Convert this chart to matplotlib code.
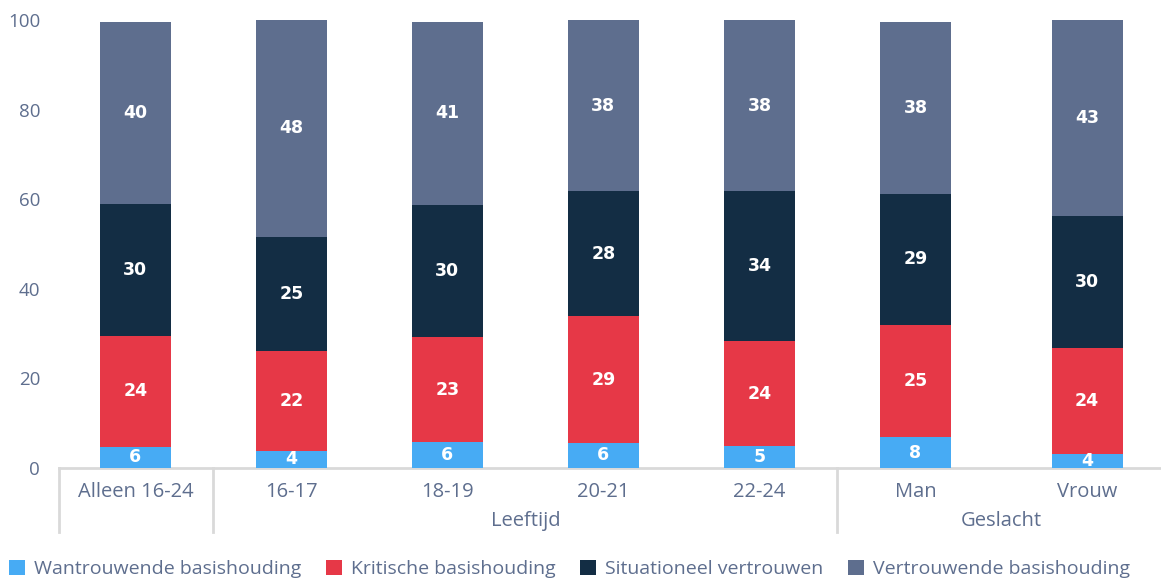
import matplotlib
matplotlib.use('Agg')
import matplotlib.pyplot as plt
from matplotlib.patches import Patch

plt.rcParams['font.family'] = ['Open Sans', 'DejaVu Sans']

# categories and groups
categories = ['Alleen 16-24', '16-17', '18-19', '20-21', '22-24', 'Man', 'Vrouw']
groups = ['Leeftijd', 'Geslacht']

# segment heights (percent)
wantrouwend = [4.7, 3.8, 5.8, 5.6, 4.9, 6.9, 3.1]
kritisch = [24.8, 22.3, 23.4, 28.3, 23.4, 25.0, 23.7]
situationeel = [29.4, 25.5, 29.5, 27.9, 33.5, 29.3, 29.5]
vertrouwend = [40.7, 48.4, 40.9, 38.2, 38.2, 38.4, 43.7]

# printed labels in the bars
lbl_wantrouwend = ['6', '4', '6', '6', '5', '8', '4']
lbl_kritisch = ['24', '22', '23', '29', '24', '25', '24']
lbl_situationeel = ['30', '25', '30', '28', '34', '29', '30']
lbl_vertrouwend = ['40', '48', '41', '38', '38', '38', '43']

series_names = ['Wantrouwende basishouding', 'Kritische basishouding',
                'Situationeel vertrouwen', 'Vertrouwende basishouding']

#* layout / styles
colors = ['#47ABF4', '#E63847', '#132D44', '#5E6E8E']
txt_col = '#5E6E8E'
grid_col = '#D9D9D9'
xpos = [0, 1, 2, 3, 4, 5, 6.1]
bar_w = 0.455

fig = plt.figure(figsize=(11.61, 5.81), dpi=100)
ax = fig.add_axes([0.0508, 0.1945, 0.9492, 0.7711])

series = [wantrouwend, kritisch, situationeel, vertrouwend]
labels = [lbl_wantrouwend, lbl_kritisch, lbl_situationeel, lbl_vertrouwend]
bottom = [0.0] * len(categories)
for vals, lbls, col, name in zip(series, labels, colors, series_names):
    ax.bar(xpos, vals, bar_w, bottom=bottom, color=col, label=name, clip_on=False, zorder=2)
    for x, b, v, t in zip(xpos, bottom, vals, lbls):
        ax.text(x, b + v / 2, t, ha='center', va='center', color='white',
                fontsize=12.5, fontweight='bold', family='DejaVu Sans', zorder=3)
    bottom = [b + v for b, v in zip(bottom, vals)]

ax.set_xlim(-0.49, 6.574)
ax.set_ylim(0, 100)
for s in ax.spines.values():
    s.set_visible(False)
ax.set_xticks([])
ax.set_yticks([0, 20, 40, 60, 80, 100])
ax.tick_params(axis='y', length=0, pad=13.5, labelsize=13.5, labelcolor=txt_col)

# baseline and group separators
ax.axhline(0, color=grid_col, lw=2, zorder=1, clip_on=False)
trans = ax.get_xaxis_transform()
for sx in [-0.49, 0.5, 4.5]:
    ax.plot([sx, sx], [0, -0.143], transform=trans, color=grid_col, lw=2, clip_on=False)

# category labels
for x, c in zip(xpos, categories):
    ax.annotate(c, (x, 0), xycoords=trans, xytext=(0, -24), textcoords='offset pixels',
                ha='center', va='center', fontsize=14.5, color=txt_col)
# group labels
for gx, g in zip([2.5, 5.55], groups):
    ax.annotate(g, (gx, 0), xycoords=trans, xytext=(0, -53), textcoords='offset pixels',
                ha='center', va='center', fontsize=14.5, color=txt_col)

handles = [Patch(facecolor=c, label=n) for c, n in zip(colors, series_names)]
leg = fig.legend(handles=handles, loc='center', bbox_to_anchor=(0.4905, 0.0207), ncol=4,
                 frameon=False, fontsize=14, handlelength=0.85, handleheight=0.85,
                 handletextpad=0.45, columnspacing=1.25, borderaxespad=0, borderpad=0)
for t in leg.get_texts():
    t.set_color(txt_col)

fig.savefig('out.png', dpi=100)
